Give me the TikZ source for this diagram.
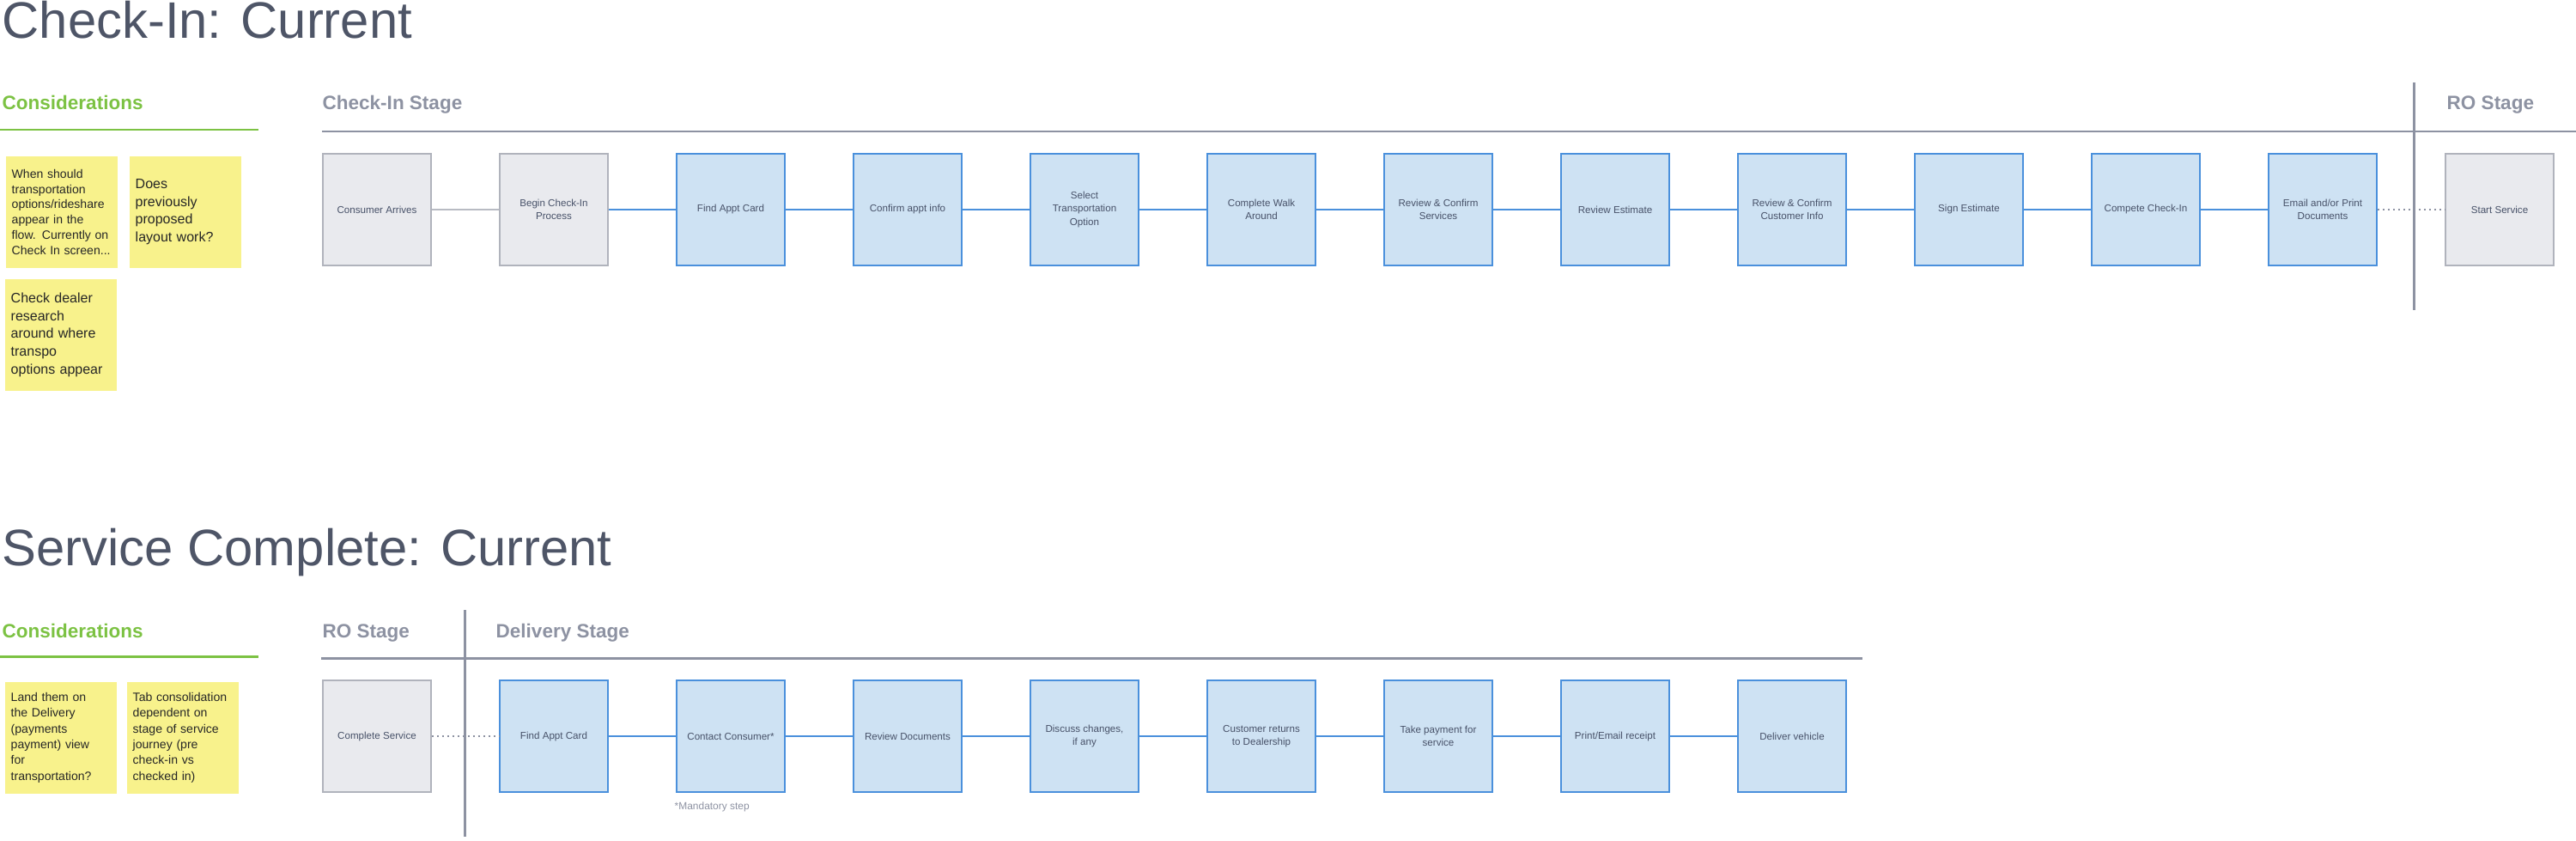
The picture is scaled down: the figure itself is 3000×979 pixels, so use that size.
\documentclass[tikz,border=0pt]{standalone}
\usepackage{fontspec}
\setmainfont{Liberation Sans}
\usetikzlibrary{calc}
\definecolor{ink}{RGB}{78,85,103}
\definecolor{labelink}{RGB}{72,82,105}
\definecolor{stagegrey}{RGB}{141,146,162}
\definecolor{considgreen}{RGB}{124,194,67}
\definecolor{stickyyellow}{RGB}{248,242,140}
\definecolor{greyfill}{RGB}{233,234,238}
\definecolor{greyline}{RGB}{176,179,188}
\definecolor{bluefill}{RGB}{206,226,243}
\definecolor{blueline}{RGB}{74,144,220}

\begin{document}
\begin{tikzpicture}[x=0.01cm,y=-0.01cm,
  stepbox/.style={draw=blueline,fill=bluefill,line width=0.55pt,minimum width=1.26cm,
    minimum height=1.3cm,inner sep=1pt,align=center,text=labelink,
    font=\fontsize{3.3}{4.3}\selectfont},
  greybox/.style={stepbox,draw=greyline,fill=greyfill},
  sticky/.style={fill=stickyyellow,anchor=north west,minimum height=1.3cm,
    inner xsep=0.07cm,text width=1.16cm,align=left,text=black!85,
    execute at begin node={\hyphenpenalty=10000\exhyphenpenalty=10000}},
  title/.style={anchor=base west,inner sep=0pt,text=ink,font=\fontsize{17}{20}\selectfont},
  stagelab/.style={anchor=base west,inner sep=0pt,text=stagegrey,
    font=\bfseries\fontsize{6.4}{7.7}\selectfont},
  considlab/.style={stagelab,text=considgreen},
  bluelink/.style={draw=blueline,line width=0.6pt},
  greylink/.style={draw=greyline!90,line width=0.6pt},
  dotlink/.style={draw=stagegrey,line width=0.6pt,dash pattern=on 0.6pt off 1.1pt},
  rule/.style={line width=0.85pt}]
\useasboundingbox (0,0) rectangle (3000,979);
% (1) check-in, current
\begin{scope}
  \node[title] (t1) at (2,45) {Check-In: Current};
  \node[considlab] (k1) at (2,128) {Considerations};
  \draw[rule,considgreen] (0,151) -- (301,151);
  \node[stagelab] (s1) at (375,128) {Check-In Stage};
  \node[stagelab] (s2) at (2849,128) {RO Stage};
  \draw[rule,stagegrey] (375,153) -- (3000,153);
  \node[sticky,font=\fontsize{4.0}{5.06}\selectfont] (n1) at (6,181)
    {When should\\transportation\\options/rideshare\\appear in the\\flow. Currently on\\Check In screen...};
  \node[sticky,font=\fontsize{4.55}{5.9}\selectfont] (n2) at (150,181)
    {Does\\previously\\proposed\\layout work?};
  \node[sticky,font=\fontsize{4.55}{5.9}\selectfont] (n3) at (5,324)
    {Check dealer\\research\\around where\\transpo\\options appear};
  \foreach \n/\lab/\sty in {0/Consumer Arrives/greybox,1/{Begin Check-In\\Process}/greybox,
    2/Find Appt Card/stepbox,3/Confirm appt info/stepbox,
    4/{Select\\Transportation\\Option}/stepbox,5/{Complete Walk\\Around}/stepbox,
    6/{Review \& Confirm\\Services}/stepbox,7/Review Estimate/stepbox,
    8/{Review \& Confirm\\Customer Info}/stepbox,9/Sign Estimate/stepbox,
    10/Compete Check-In/stepbox,11/{Email and/or Print\\Documents}/stepbox,
    12/Start Service/greybox}
    {\node[\sty] (c\n) at ({439+206*\n},244) {\lab};}
  \draw[greylink] (c0) -- (c1);
  \foreach \a in {1,...,10}{\pgfmathtruncatemacro\b{\a+1}\draw[bluelink] (c\a) -- (c\b);}
  \draw[dotlink] (c11) -- (c12);
  \draw[rule,stagegrey] (2811,96) -- (2811,361);
\end{scope}
% (2) service complete, current
\begin{scope}
  \node[title] (t2) at (2,658) {Service Complete: Current};
  \node[considlab] (k2) at (2,742) {Considerations};
  \draw[rule,considgreen] (0,764) -- (301,764);
  \node[stagelab] (s3) at (375,742) {RO Stage};
  \node[stagelab] (s4) at (577,742) {Delivery Stage};
  \draw[rule,stagegrey] (374,766) -- (2169,766);
  \node[sticky,font=\fontsize{4.0}{5.2}\selectfont] (n4) at (5,793)
    {Land them on\\the Delivery\\(payments\\payment) view\\for\\transportation?};
  \node[sticky,font=\fontsize{4.0}{5.2}\selectfont] (n5) at (147,793)
    {Tab consolidation\\dependent on\\stage of service\\journey (pre\\check-in vs\\checked in)};
  \foreach \n/\lab/\sty in {0/Complete Service/greybox,1/Find Appt Card/stepbox,
    2/Contact Consumer*/stepbox,3/Review Documents/stepbox,
    4/{Discuss changes,\\if any}/stepbox,5/{Customer returns\\to Dealership}/stepbox,
    6/{Take payment for\\service}/stepbox,7/{Print/Email receipt}/stepbox,
    8/Deliver vehicle/stepbox}
    {\node[\sty] (d\n) at ({439+206*\n},857) {\lab};}
  \draw[dotlink] (d0) -- (d1);
  \foreach \a in {1,...,7}{\pgfmathtruncatemacro\b{\a+1}\draw[bluelink] (d\a) -- (d\b);}
  \draw[rule,stagegrey] (541,710) -- (541,974);
  \node[anchor=base west,inner sep=0pt,text=stagegrey,font=\fontsize{3.4}{4.2}\selectfont]
    (m1) at (785,942) {*Mandatory step};
\end{scope}
\end{tikzpicture}
\end{document}
